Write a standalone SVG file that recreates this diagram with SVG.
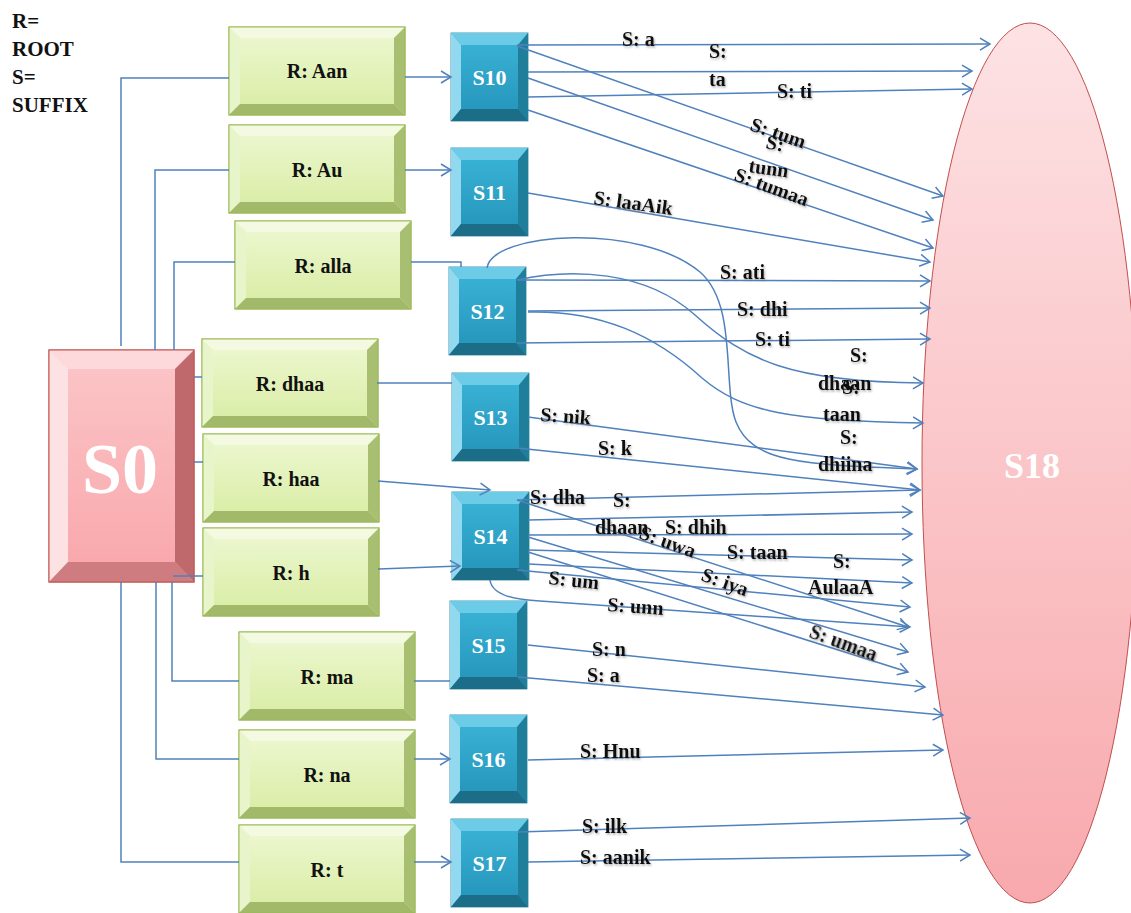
<svg xmlns="http://www.w3.org/2000/svg" xmlns:xlink="http://www.w3.org/1999/xlink" width="1131" height="913" viewBox="0 0 1131 913">
<style>
.t{font-family:"Liberation Serif","Times New Roman",serif;font-weight:bold}
.lg{font-size:21px;fill:#111}
.lb{font-size:20px;fill:#111;filter:url(#sh)}
.gt{font-size:20px;fill:#111;text-anchor:middle}
.bt{font-size:22px;fill:#fff;text-anchor:middle}
.c{fill:none;stroke:#4f81bd;stroke-width:1.5}
.ca{fill:none;stroke:#4f81bd;stroke-width:1.5;marker-end:url(#ar)}
.gf{fill:url(#gF);stroke:#9bbb59;stroke-width:1}
.gtb{fill:#f4fae2}.glb{fill:#e8f4c9}.grb{fill:#a8be70}.gbb{fill:#a1b968}
.bf{fill:url(#bF);stroke:#1f7f9b;stroke-width:0.8}
.btb{fill:#6ccbe6}.blb{fill:#92d8ee}.brb{fill:#1f7f9b}.bbb{fill:#1c6e88}
</style>
<defs>
<filter id="sh" x="-10%" y="-20%" width="130%" height="150%"><feDropShadow dx="1" dy="1.5" stdDeviation="0.8" flood-color="#777" flood-opacity="0.6"/></filter>
<marker id="ar" markerWidth="14" markerHeight="14" refX="12" refY="7" orient="auto" markerUnits="userSpaceOnUse"><path d="M2,1 L12,7 L2,13" fill="none" stroke="#4f81bd" stroke-width="1.5"/></marker>
<linearGradient id="gF" x1="0" y1="0" x2="0" y2="1"><stop offset="0" stop-color="#eef8d3"/><stop offset="1" stop-color="#d8eca2"/></linearGradient>
<linearGradient id="bF" x1="0" y1="0" x2="0" y2="1"><stop offset="0" stop-color="#3bb5d9"/><stop offset="1" stop-color="#2493b8"/></linearGradient>
<linearGradient id="rF" x1="0" y1="0" x2="0" y2="1"><stop offset="0" stop-color="#fbc6c8"/><stop offset="1" stop-color="#f9a6aa"/></linearGradient>
<linearGradient id="eF" x1="0" y1="0" x2="0" y2="1"><stop offset="0" stop-color="#fde2e4"/><stop offset="1" stop-color="#f8a9ad"/></linearGradient>
<g id="gbox">
<rect class="gf" x="0" y="0" width="176" height="88"/>
<polygon class="gtb" points="0,0 176,0 165,11 11,11"/>
<polygon class="glb" points="0,0 11,11 11,77 0,88"/>
<polygon class="grb" points="176,0 176,88 165,77 165,11"/>
<polygon class="gbb" points="0,88 11,77 165,77 176,88"/>
<rect x="0" y="0" width="176" height="88" fill="none" stroke="#9bbb59" stroke-width="1"/>
</g>
<g id="bbox">
<rect class="bf" x="0" y="0" width="77" height="88"/>
<polygon class="btb" points="0,0 77,0 67,12 10,12"/>
<polygon class="blb" points="0,0 10,12 10,76 0,88"/>
<polygon class="brb" points="77,0 77,88 67,76 67,12"/>
<polygon class="bbb" points="0,88 10,76 67,76 77,88"/>
</g>
</defs>
<rect width="1131" height="913" fill="#fff"/>

<g id="legend" class="t lg">
<text x="12" y="28">R=</text>
<text x="12" y="56">ROOT</text>
<text x="12" y="84">S=</text>
<text x="12" y="112">SUFFIX</text>
</g>

<g id="S18">
<ellipse cx="1030" cy="463" rx="108" ry="440" fill="url(#eF)" stroke="#c0504d" stroke-width="1"/>
<text class="t" x="1032" y="478" font-size="36" fill="#fff" text-anchor="middle">S18</text>
</g>

<g id="S0">
<rect x="49" y="350" width="145" height="232" fill="url(#rF)" stroke="#c0504d" stroke-width="1"/>
<polygon points="49,350 194,350 175,369 68,369" fill="#fdd9db"/>
<polygon points="49,350 68,369 68,562 49,582" fill="#fde2e3"/>
<polygon points="194,350 194,582 175,562 175,369" fill="#c0696d"/>
<polygon points="49,582 68,562 175,562 194,582" fill="#cf7c80"/>
<rect x="49" y="350" width="145" height="232" fill="none" stroke="#c0504d" stroke-width="1"/>
<text class="t" x="120" y="493" font-size="72" fill="#fff" text-anchor="middle">S0</text>
</g>

<g id="R_Aan"><use xlink:href="#gbox" x="229" y="27"/><text class="t gt" x="317" y="78">R: Aan</text></g>
<g id="R_Au"><use xlink:href="#gbox" x="229" y="125"/><text class="t gt" x="317" y="177">R: Au</text></g>
<g id="R_alla"><use xlink:href="#gbox" x="235" y="221"/><text class="t gt" x="323" y="273">R: alla</text></g>
<g id="R_dhaa"><use xlink:href="#gbox" x="202" y="339"/><text class="t gt" x="290" y="391">R: dhaa</text></g>
<g id="R_haa"><use xlink:href="#gbox" x="203" y="434"/><text class="t gt" x="291" y="486">R: haa</text></g>
<g id="R_h"><use xlink:href="#gbox" x="203" y="528"/><text class="t gt" x="291" y="580">R: h</text></g>
<g id="R_ma"><use xlink:href="#gbox" x="239" y="632"/><text class="t gt" x="327" y="684">R: ma</text></g>
<g id="R_na"><use xlink:href="#gbox" x="239" y="730"/><text class="t gt" x="327" y="782">R: na</text></g>
<g id="R_t"><use xlink:href="#gbox" x="239" y="825"/><text class="t gt" x="327" y="877">R: t</text></g>

<g id="S10"><use xlink:href="#bbox" x="451" y="33"/><text class="t bt" x="489.5" y="85">S10</text></g>
<g id="S11"><use xlink:href="#bbox" x="451" y="148"/><text class="t bt" x="489.5" y="200">S11</text></g>
<g id="S12"><use xlink:href="#bbox" x="449" y="267"/><text class="t bt" x="487.5" y="319">S12</text></g>
<g id="S13"><use xlink:href="#bbox" x="452" y="373"/><text class="t bt" x="490.5" y="425">S13</text></g>
<g id="S14"><use xlink:href="#bbox" x="452" y="492"/><text class="t bt" x="490.5" y="544">S14</text></g>
<g id="S15"><use xlink:href="#bbox" x="450" y="601"/><text class="t bt" x="488.5" y="653">S15</text></g>
<g id="S16"><use xlink:href="#bbox" x="450" y="715"/><text class="t bt" x="488.5" y="767">S16</text></g>
<g id="S17"><use xlink:href="#bbox" x="451" y="819"/><text class="t bt" x="489.5" y="871">S17</text></g>

<g id="connectors">
<!-- S0 to roots -->
<polyline class="c" points="121,346 121,78 229,78"/>
<polyline class="c" points="155,350 155,170 229,170"/>
<polyline class="c" points="174,350 174,262 235,262"/>
<line class="c" x1="194" y1="377" x2="202" y2="377"/>
<line class="c" x1="194" y1="462" x2="203" y2="462"/>
<line class="c" x1="173" y1="576" x2="203" y2="576"/>
<polyline class="c" points="172,582 172,681 239,681"/>
<polyline class="c" points="156,582 156,759 239,759"/>
<polyline class="c" points="121,582 121,862 239,862"/>
<!-- roots to states -->
<line class="ca" x1="405" y1="77" x2="451" y2="77"/>
<line class="ca" x1="405" y1="170" x2="451" y2="170"/>
<polyline class="c" points="411,262 461,262 461,267"/>
<line class="c" x1="377" y1="383" x2="452" y2="383"/>
<line class="ca" x1="378" y1="481" x2="490" y2="490"/>
<line class="ca" x1="378" y1="569" x2="460" y2="566"/>
<line class="c" x1="414" y1="681" x2="450" y2="681"/>
<line class="ca" x1="414" y1="759" x2="450" y2="759"/>
<line class="ca" x1="414" y1="862" x2="451" y2="862"/>
<!-- S10 -->
<line class="ca" x1="517" y1="45" x2="990" y2="44"/>
<line class="ca" x1="517" y1="46" x2="943" y2="196"/>
<line class="ca" x1="528" y1="72" x2="972" y2="71"/>
<line class="ca" x1="528" y1="97" x2="972" y2="89"/>
<line class="ca" x1="528" y1="78" x2="933" y2="220"/>
<line class="ca" x1="528" y1="110" x2="933" y2="248"/>
<!-- S11 -->
<line class="ca" x1="528" y1="193" x2="930" y2="262"/>
<!-- S12 -->
<line class="ca" x1="517" y1="280" x2="930" y2="281"/>
<line class="ca" x1="528" y1="311" x2="930" y2="308"/>
<line class="ca" x1="517" y1="343" x2="930" y2="339"/>
<path class="ca" d="M487,268 C492,232 640,222 700,272 C738,305 722,385 736,422 C752,462 800,465 917,469"/>
<path class="ca" d="M517,280 C570,268 645,270 695,315 C745,360 790,382 923,383"/>
<path class="ca" d="M528,312 C600,310 655,335 702,378 C742,412 790,421 923,423"/>
<!-- S13 -->
<line class="ca" x1="528" y1="417" x2="917" y2="469"/>
<line class="ca" x1="517" y1="448" x2="920" y2="490"/>
<!-- S14 -->
<line class="ca" x1="517" y1="500" x2="920" y2="490"/>
<line class="ca" x1="517" y1="500" x2="908" y2="627"/>
<line class="ca" x1="528" y1="520" x2="912" y2="512"/>
<line class="ca" x1="528" y1="535" x2="912" y2="534"/>
<line class="ca" x1="528" y1="537" x2="908" y2="652"/>
<line class="ca" x1="528" y1="550" x2="912" y2="560"/>
<line class="ca" x1="528" y1="552" x2="908" y2="672"/>
<line class="ca" x1="528" y1="564" x2="912" y2="583"/>
<line class="ca" x1="517" y1="570" x2="910" y2="607"/>
<path class="ca" d="M490,580 C492,595 515,600 540,601 L910,627"/>
<!-- S15 -->
<line class="ca" x1="528" y1="645" x2="925" y2="687"/>
<line class="ca" x1="518" y1="677" x2="943" y2="715"/>
<!-- S16 -->
<line class="ca" x1="528" y1="760" x2="943" y2="750"/>
<!-- S17 -->
<line class="ca" x1="518" y1="832" x2="970" y2="818"/>
<line class="ca" x1="528" y1="862" x2="970" y2="855"/>
</g>

<g id="labels" class="t lb">
<text x="622" y="46">S: a</text>
<text x="709" y="58">S:</text>
<text x="709" y="86">ta</text>
<text x="777" y="98">S: ti</text>
<text transform="translate(749,130) rotate(19)">S: tum</text>
<text transform="translate(765,148) rotate(12)">S:</text>
<text transform="translate(748,172) rotate(8)">tunn</text>
<text transform="translate(733,180) rotate(20)">S: tumaa</text>
<text transform="translate(593,204) rotate(8)">S: laaAik</text>
<text x="720" y="279">S: ati</text>
<text x="737" y="316">S: dhi</text>
<text x="755" y="346">S: ti</text>
<text x="850" y="362">S:</text>
<text x="818" y="390">dhaan</text>
<text x="842" y="394">S:</text>
<text x="823" y="421">taan</text>
<text x="840" y="444">S:</text>
<text x="818" y="471">dhiina</text>
<text transform="translate(540,421) rotate(4)">S: nik</text>
<text x="598" y="455">S: k</text>
<text x="530" y="504">S: dha</text>
<text x="613" y="507">S:</text>
<text x="595" y="534">dhaan</text>
<text x="665" y="534">S: dhih</text>
<text transform="translate(638,538) rotate(20)">S: uwa</text>
<text x="727" y="559">S: taan</text>
<text x="833" y="568">S:</text>
<text x="808" y="594">AulaaA</text>
<text transform="translate(548,584) rotate(6)">S: um</text>
<text transform="translate(607,611) rotate(4)">S: unn</text>
<text transform="translate(700,580) rotate(20)">S: iya</text>
<text transform="translate(808,637) rotate(20)">S: umaa</text>
<text x="592" y="656">S: n</text>
<text x="587" y="682">S: a</text>
<text x="580" y="758">S: Hnu</text>
<text x="582" y="833">S: ilk</text>
<text x="580" y="864">S: aanik</text>
</g>
</svg>
